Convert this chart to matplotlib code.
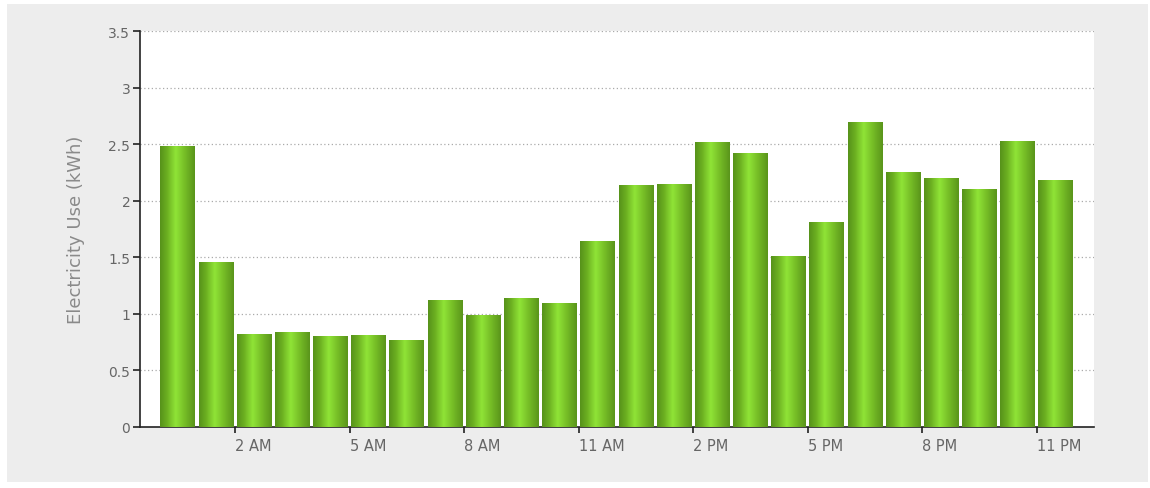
import numpy as np
import matplotlib
matplotlib.use("Agg")
import matplotlib.pyplot as plt
from matplotlib.colors import LinearSegmentedColormap
from matplotlib.patches import Rectangle

# hourly electricity use, hour 0 = midnight
hours = list(range(24))
usage = [2.48, 1.46, 0.82, 0.84, 0.80, 0.81, 0.77, 1.12, 0.99, 1.14, 1.10, 1.64,
         2.14, 2.15, 2.52, 2.42, 1.51, 1.81, 2.70, 2.25, 2.20, 2.10, 2.53, 2.18]
tick_hours = [2, 5, 8, 11, 14, 17, 20, 23]
tick_labels = ["2 AM", "5 AM", "8 AM", "11 AM", "2 PM", "5 PM", "8 PM", "11 PM"]
y_ticks = [0, 0.5, 1, 1.5, 2, 2.5, 3, 3.5]
y_labels = ["0", "0.5", "1", "1.5", "2", "2.5", "3", "3.5"]

W, H = 1150, 489
fig = plt.figure(figsize=(W / 100, H / 100), dpi=100, facecolor="white")

# grey panel behind the chart
fig.patches.append(Rectangle((7 / W, 6 / H), (W - 9) / W, (H - 11) / H,
                             transform=fig.transFigure, facecolor="#ededed",
                             edgecolor="none", zorder=-10))

ax = fig.add_axes([140 / W, (H - 428) / H, (1094 - 140) / W, (428 - 32) / H])
ax.set_facecolor("white")

cmap = LinearSegmentedColormap.from_list(
    "bar", [(0, "#57921a"), (0.2, "#6cb021"), (0.45, "#90e437"),
            (0.7, "#77bf27"), (1, "#5a951b")])
grad = np.linspace(0, 1, 64).reshape(1, -1)

width = 0.91
bars = ax.bar([h + 0.5 for h in hours], usage, width=width, color="none",
              edgecolor="none", zorder=3)
for b in bars:
    x0 = b.get_x()
    im = ax.imshow(grad, cmap=cmap, aspect="auto", zorder=3,
                   extent=(x0, x0 + b.get_width(), 0, b.get_height()),
                   interpolation="bilinear")
    im.set_clip_path(b)

ax.set_xlim(-0.49, 24.5)
ax.set_ylim(0, 3.5)

ax.set_yticks(y_ticks)
ax.set_yticklabels(y_labels)
ax.set_xticks(tick_hours)
ax.set_xticklabels(tick_labels, ha="left")

for y in y_ticks[1:]:
    ax.axhline(y, color="#aaaaaa", lw=0.9, ls=(0, (1, 2)), zorder=1)

for s in ["top", "right"]:
    ax.spines[s].set_visible(False)
for s in ["left", "bottom"]:
    ax.spines[s].set_color("#222222")
    ax.spines[s].set_linewidth(1.2)

ax.tick_params(axis="y", direction="out", length=5, width=1.2, color="#222222",
               labelsize=10, labelcolor="#666666", pad=2)
ax.tick_params(axis="x", direction="out", length=4, width=1.2, color="#222222",
               labelsize=10.5, labelcolor="#666666", pad=4)

ax.set_ylabel("Electricity Use (kWh)", fontsize=13, color="#8a8a8a", labelpad=17)

fig.savefig("out.png", dpi=100, facecolor="white")
